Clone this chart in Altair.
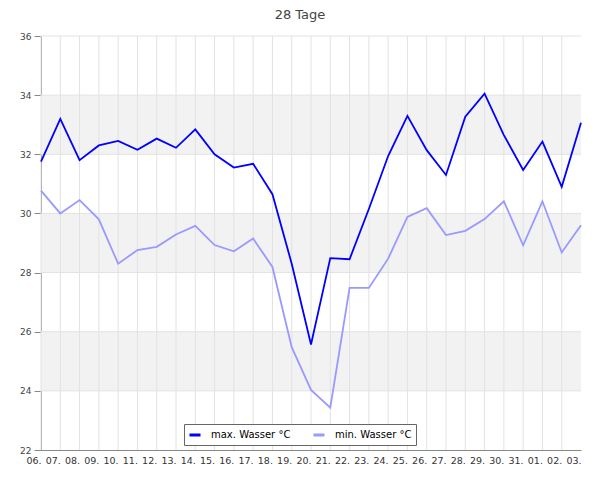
import altair as alt
import pandas as pd

days = ["06.", "07.", "08.", "09.", "10.", "11.", "12.", "13.", "14.", "15.",
        "16.", "17.", "18.", "19.", "20.", "21.", "22.", "23.", "24.", "25.",
        "26.", "27.", "28.", "29.", "30.", "31.", "01.", "02.", "03."]
max_vals = [31.75, 33.2, 31.8, 32.3, 32.45, 32.15, 32.53, 32.22, 32.84, 32.0,
            31.55, 31.68, 30.65, 28.3, 25.57, 28.49, 28.45, 30.15, 31.94, 33.3,
            32.14, 31.3, 33.27, 34.05, 32.65, 31.47, 32.43, 30.9, 33.07]
min_vals = [30.77, 30.0, 30.45, 29.8, 28.3, 28.76, 28.87, 29.29, 29.58, 28.93,
            28.72, 29.15, 28.19, 25.48, 24.03, 23.43, 27.48, 27.48, 28.47, 29.88,
            30.18, 29.27, 29.41, 29.81, 30.41, 28.92, 30.41, 28.68, 29.6]
series_names = ["max. Wasser °C", "min. Wasser °C"]
series_colors = ["#0000ff", "#9999ff"]
band_lo = [24, 28, 32]
band_hi = [26, 30, 34]
grid_y = [24, 26, 28, 30, 32, 34, 36]
y_ticks = list(range(22, 37))

rows = []
for d, a, b in zip(days, max_vals, min_vals):
    rows.append({"day": d, "value": a, "series": series_names[0]})
    rows.append({"day": d, "value": b, "series": series_names[1]})
df = pd.DataFrame(rows)
bands = pd.DataFrame({"lo": band_lo, "hi": band_hi})
hgrid = pd.DataFrame({"y": grid_y})
vgrid = pd.DataFrame({"day": days[:-1]})

FONT = "DejaVu Sans"
yscale = alt.Scale(domain=[22, 36], nice=False, zero=False)
xscale = alt.Scale(type="point", padding=0, domain=days)

band_layer = alt.Chart(bands).mark_rect(color="#f2f2f2").encode(
    y=alt.Y("lo:Q", scale=yscale, axis=alt.Axis(
        title=None, values=y_ticks,
        labelExpr="datum.value % 2 === 0 ? datum.label : ''",
        tickSize={"condition": {"test": "datum.value % 2 === 1", "value": 4}, "value": 7},
        grid=False, domainColor="#888888", tickColor="#888888",
        labelFont=FONT, labelFontSize=9, labelColor="#444444", labelPadding=3)),
    y2="hi:Q",
)

hgrid_layer = alt.Chart(hgrid).mark_rule(color="#e2e2e2", strokeWidth=1).encode(
    y=alt.Y("y:Q", scale=yscale),
)

vgrid_layer = alt.Chart(vgrid).mark_rule(color="#e2e2e2", strokeWidth=1).encode(
    x=alt.X("day:O", scale=xscale, sort=days),
)

line_layer = alt.Chart(df).mark_line(strokeWidth=1.8).encode(
    x=alt.X("day:O", scale=xscale, sort=days, axis=alt.Axis(
        title=None, labelAngle=0, ticks=False, grid=False,
        domainColor="#888888", labelFont=FONT, labelFontSize=9.5,
        labelColor="#333333", labelPadding=10)),
    y=alt.Y("value:Q", scale=yscale),
    color=alt.Color("series:N", scale=alt.Scale(domain=series_names, range=series_colors),
                    legend=alt.Legend(
                        title=None, orient="none", legendX=143, legendY=388,
                        direction="horizontal", symbolType="stroke",
                        symbolStrokeWidth=3, symbolSize=121, labelFont=FONT,
                        labelFontSize=10, labelColor="#000000", labelOffset=9,
                        columnPadding=16, padding=4, strokeColor="#666666",
                        fillColor="#ffffff")),
    detail="series:N",
)

chart = alt.layer(band_layer, hgrid_layer, vgrid_layer, line_layer).properties(
    width=540, height=414,
    title=alt.TitleParams("28 Tage", font=FONT, fontSize=13, fontWeight="normal",
                          color="#444444", anchor="middle", dx=-11, offset=10),
    autosize=alt.AutoSizeParams(type="none"),
    padding={"left": 33, "top": 28, "right": 8, "bottom": 42},
).configure_view(stroke=None)

chart.save("out.html", embed_options={"renderer": "svg", "actions": False})
